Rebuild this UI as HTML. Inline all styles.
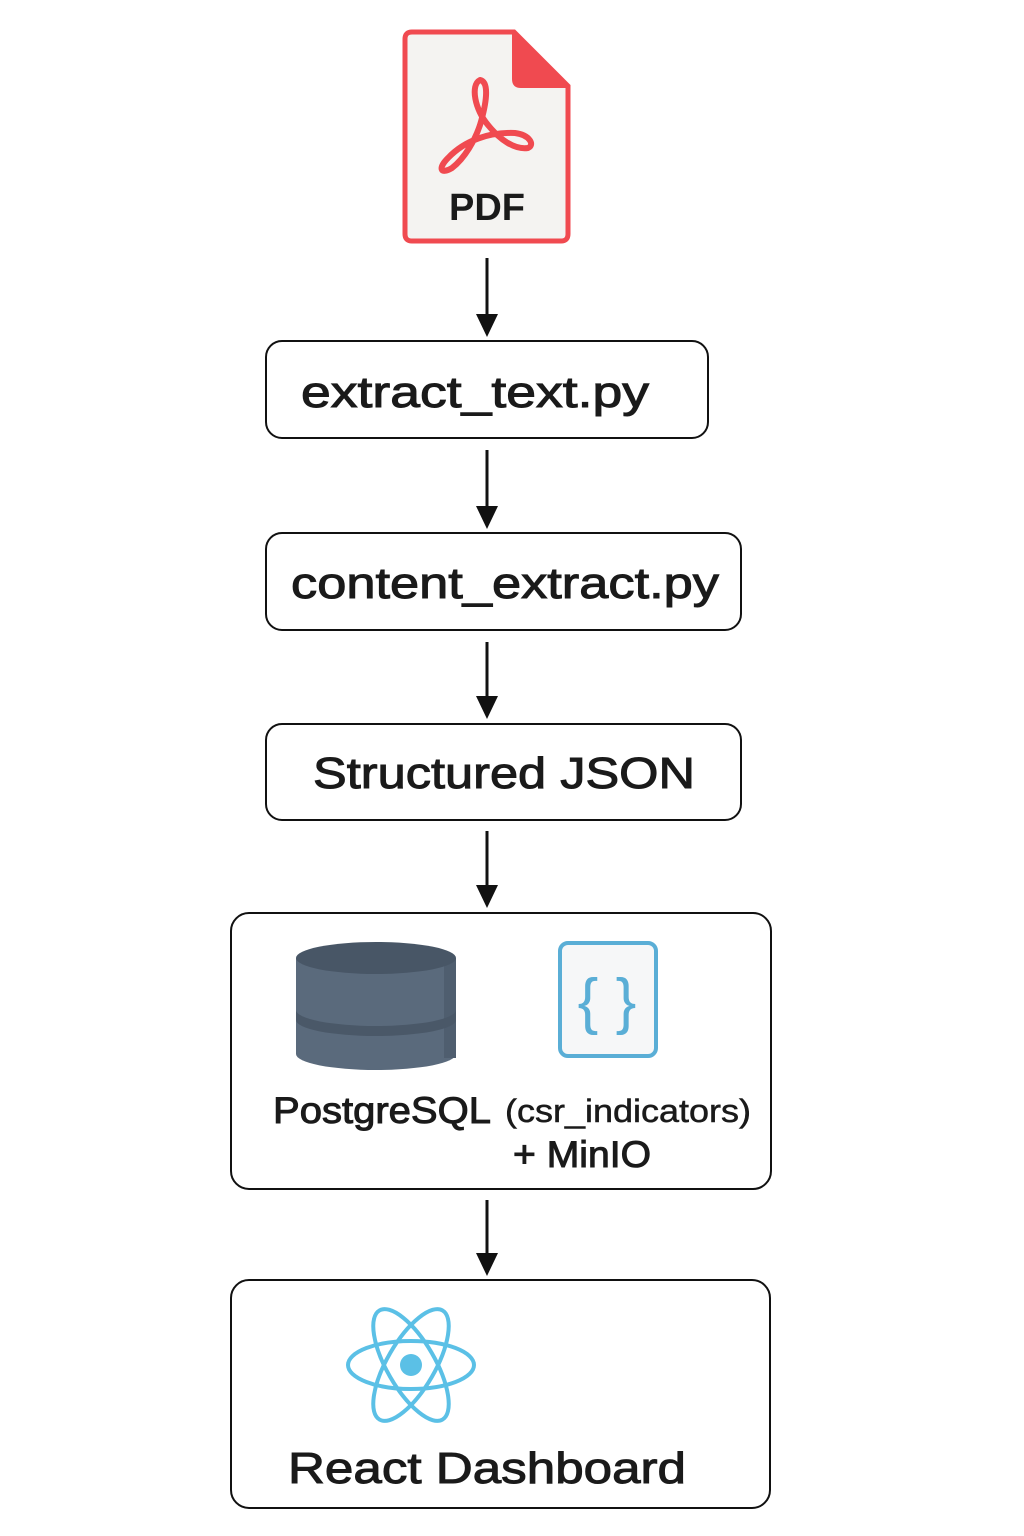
<!DOCTYPE html>
<html><head><meta charset="utf-8"><style>html,body{margin:0;padding:0;background:#fff}svg{display:block}</style></head><body>
<svg width="1024" height="1536" viewBox="0 0 1024 1536" xmlns="http://www.w3.org/2000/svg" font-family="Liberation Sans, DejaVu Sans, sans-serif">
<!-- PDF icon -->
<path d="M412,32 H514 L568,86 V234 Q568,241 561,241 H412 Q405,241 405,234 V39 Q405,32 412,32 Z" fill="#f4f3f1" stroke="#f04a50" stroke-width="5"/>
<path d="M514,32 V79 Q514,86 521,86 H568 Z" fill="#f04a50" stroke="#f04a50" stroke-width="4" stroke-linejoin="round"/>
<path d="M480,80 C470,85 475,110 488,125 C500,140 515,150 528,148 C535,145 530,135 515,133 C490,132 465,140 448,158 C438,168 440,175 452,168 C465,158 475,140 480,125 C486,105 490,82 480,80 Z" fill="none" stroke="#f04a50" stroke-width="6" stroke-linejoin="round"/>
<text x="487" y="220" font-size="38" font-weight="bold" fill="#1a1a1a" text-anchor="middle">PDF</text>
<!-- arrows -->
<g stroke="#111" stroke-width="3">
<line x1="487" y1="258" x2="487" y2="318"/>
<line x1="487" y1="450" x2="487" y2="510"/>
<line x1="487" y1="642" x2="487" y2="700"/>
<line x1="487" y1="831" x2="487" y2="889"/>
<line x1="487" y1="1200" x2="487" y2="1257"/>
</g>
<g fill="#111">
<path d="M476,314 L498,314 L487,337 Z"/>
<path d="M476,506 L498,506 L487,529 Z"/>
<path d="M476,696 L498,696 L487,719 Z"/>
<path d="M476,885 L498,885 L487,908 Z"/>
<path d="M476,1253 L498,1253 L487,1276 Z"/>
</g>
<g fill="#fff" stroke="#111" stroke-width="2">
<rect x="266" y="341" width="442" height="97" rx="16"/>
<rect x="266" y="533" width="475" height="97" rx="16"/>
<rect x="266" y="724" width="475" height="96" rx="16"/>
<rect x="231" y="913" width="540" height="276" rx="18"/>
<rect x="231" y="1280" width="539" height="228" rx="18"/>
</g>
<g fill="#1a1a1a" stroke="#1a1a1a" stroke-width="1" font-size="44">
<text x="301" y="407" textLength="348" lengthAdjust="spacingAndGlyphs">extract_text.py</text>
<text x="291" y="598" textLength="428" lengthAdjust="spacingAndGlyphs">content_extract.py</text>
<text x="313" y="788" textLength="382" lengthAdjust="spacingAndGlyphs">Structured JSON</text>
<text x="273" y="1123" font-size="37" textLength="218" lengthAdjust="spacingAndGlyphs">PostgreSQL</text>
<text x="505" y="1122" font-size="32" stroke-width="0.5" textLength="246" lengthAdjust="spacingAndGlyphs">(csr_indicators)</text>
<text x="513" y="1167" font-size="37" textLength="138" lengthAdjust="spacingAndGlyphs">+ MinIO</text>
<text x="288" y="1483" textLength="398" lengthAdjust="spacingAndGlyphs">React Dashboard</text>
</g>
<!-- database -->
<path d="M296,958 V1054 A80,16 0 0 0 456,1054 V958 Z" fill="#5a6a7c"/>
<rect x="444" y="958" width="12" height="100" fill="#4f5e6f"/>
<path d="M296,1010 A80,16 0 0 0 456,1010 V1020 A80,16 0 0 1 296,1020 Z" fill="#4a5868"/>
<ellipse cx="376" cy="958" rx="80" ry="16" fill="#485666"/>
<!-- json icon -->
<rect x="560" y="943" width="96" height="113" rx="8" fill="#f6f7f8" stroke="#5aaed6" stroke-width="4"/>
<text x="607" y="1022" font-size="62" fill="#5aaed6" text-anchor="middle">{ }</text>
<!-- react -->
<g fill="none" stroke="#5bc0e6" stroke-width="4">
<ellipse cx="411" cy="1365" rx="63" ry="24"/>
<ellipse cx="411" cy="1365" rx="63" ry="24" transform="rotate(60 411 1365)"/>
<ellipse cx="411" cy="1365" rx="63" ry="24" transform="rotate(-60 411 1365)"/>
</g>
<circle cx="411" cy="1365" r="11" fill="#5bc0e6"/>
</svg>
</body></html>
